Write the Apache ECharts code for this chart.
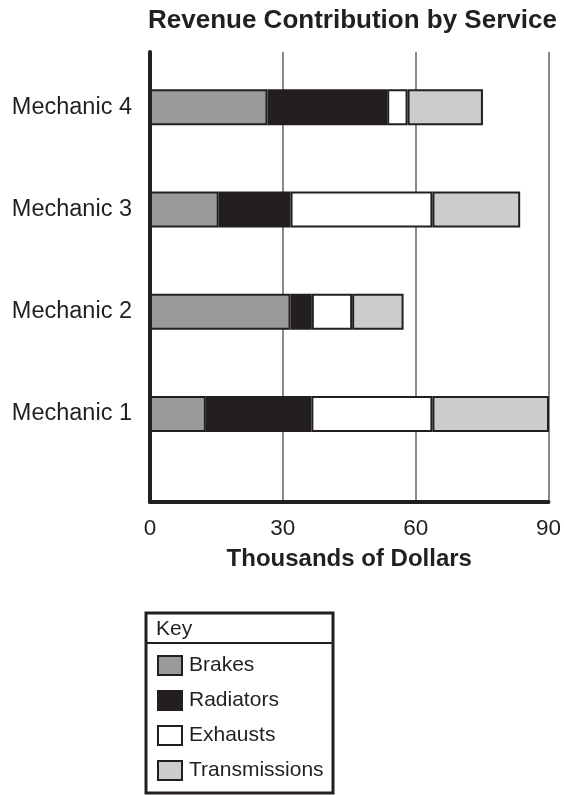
<!DOCTYPE html>
<html>
<head>
<meta charset="utf-8">
<script src="https://cdn.jsdelivr.net/npm/echarts@6/dist/echarts.min.js"></script>
<style>html,body{margin:0;padding:0;background:#fff}#c{width:564px;height:795px}</style>
</head>
<body>
<div id="c"></div>
<script>
var categories = ['Mechanic 1', 'Mechanic 2', 'Mechanic 3', 'Mechanic 4'];
var brakes = [12.6, 31.7, 15.5, 26.5];
var radiators = [23.8, 4.8, 16.2, 27];
var exhausts = [27.3, 9.1, 32, 4.6];
var transmissions = [26.3, 11.6, 19.8, 17];
var seriesNames = ['Brakes', 'Radiators', 'Exhausts', 'Transmissions'];
var xTicks = [0, 30, 60, 90];

var FONT = '"Liberation Sans", Arial, sans-serif';
var INK = '#231f20';
var colors = ['#9a9a9a', INK, '#ffffff', '#cccccc'];
var values = [brakes, radiators, exhausts, transmissions];

var chart = echarts.init(document.getElementById('c'), null, {renderer: 'canvas'});
var series = seriesNames.map(function (n, i) {
  return {
    name: n, type: 'bar', stack: 'total', xAxisIndex: 0, yAxisIndex: 0,
    barWidth: 36, data: values[i],
    itemStyle: {color: colors[i], borderColor: INK, borderWidth: 2},
    emphasis: {disabled: true}
  };
});

chart.setOption({
  animation: false,
  backgroundColor: '#fff',
  textStyle: {fontFamily: FONT, color: INK},
  title: {
    text: 'Revenue Contribution by Service', left: 143, top: 3,
    textStyle: {fontFamily: FONT, fontWeight: 'bold', fontSize: 26, color: INK}
  },
  grid: [
    {left: 150, right: 15, top: 56, height: 409, containLabel: false},
    {left: 150, right: 15, top: 52, bottom: 293, containLabel: false}
  ],
  xAxis: [
    {gridIndex: 0, type: 'value', min: xTicks[0], max: xTicks[xTicks.length - 1], interval: 30, show: false},
    {gridIndex: 1, type: 'value', min: xTicks[0], max: xTicks[xTicks.length - 1], interval: 30,
      axisLine: {show: true, lineStyle: {color: INK, width: 4}},
      axisTick: {show: false},
      splitLine: {show: true, lineStyle: {color: '#8a8a8a', width: 2}},
      axisLabel: {fontSize: 22.5, color: INK, fontFamily: FONT, margin: 15},
      name: 'Thousands of Dollars', nameLocation: 'middle', nameGap: 45,
      nameTextStyle: {fontSize: 24, fontWeight: 'bold', color: INK, fontFamily: FONT}
    }
  ],
  yAxis: [
    {gridIndex: 0, type: 'category', data: categories,
      axisLine: {show: false}, axisTick: {show: false}, splitLine: {show: false},
      axisLabel: {fontSize: 23.5, color: INK, fontFamily: FONT, margin: 18}
    },
    {gridIndex: 1, type: 'value', min: 0, max: 1,
      axisLine: {show: true, lineStyle: {color: INK, width: 4}},
      axisTick: {show: false}, axisLabel: {show: false}, splitLine: {show: false}
    }
  ],
  legend: {
    data: seriesNames, orient: 'vertical', left: 157, top: 655,
    itemWidth: 24, itemHeight: 19, itemGap: 14, icon: 'rect',
    textStyle: {fontSize: 21, lineHeight: 19, color: INK, fontFamily: FONT, padding: [0, 0, 0, 2]},
    itemStyle: {borderColor: INK, borderWidth: 2},
    selectedMode: false, padding: 0
  },
  graphic: [
    {type: 'rect', shape: {x: 146, y: 613, width: 187, height: 180}, style: {fill: 'none', stroke: INK, lineWidth: 3}, z: 10},
    {type: 'line', shape: {x1: 146, y1: 643, x2: 333, y2: 643}, style: {stroke: INK, lineWidth: 2}, z: 10},
    {type: 'text', left: 156, top: 619, style: {text: 'Key', fontSize: 21, fill: INK, fontFamily: FONT}, z: 10}
  ],
  series: series
});
</script>
</body>
</html>
